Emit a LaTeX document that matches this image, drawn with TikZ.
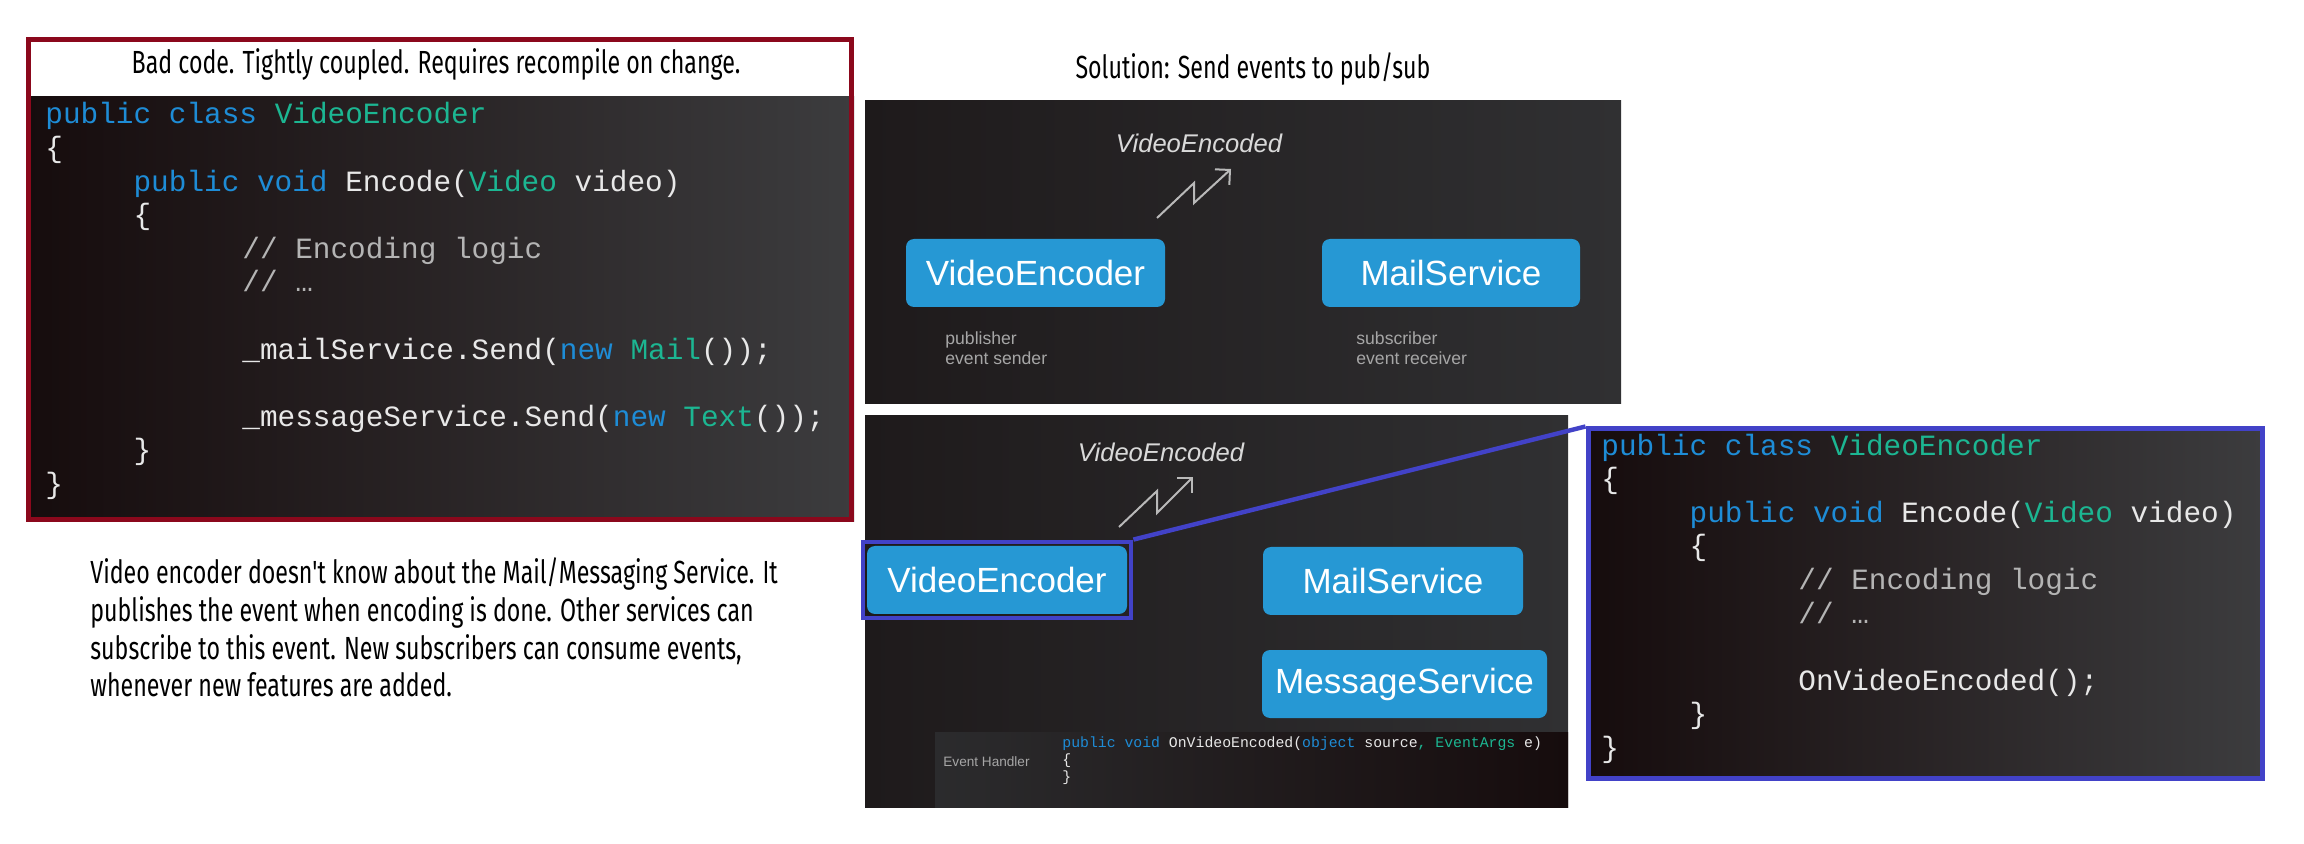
\documentclass[tikz,border=0pt]{standalone}
\usepackage{fontspec}
\setmainfont{Liberation Sans}
\setmonofont{Liberation Mono}
\newfontfamily\condfont[FakeStretch=0.725]{Fira Sans}
\usepackage{tikz}
\usetikzlibrary{arrows.meta,positioning,fit,calc}

\definecolor{framered}{RGB}{139,8,28}
\definecolor{linkblue}{RGB}{66,66,200}
\definecolor{boxblue}{RGB}{38,152,212}
\definecolor{kwblue}{RGB}{30,140,214}
\definecolor{tyteal}{RGB}{28,182,146}
\definecolor{codefg}{RGB}{232,232,232}
\definecolor{cmtgray}{RGB}{180,180,180}
\definecolor{codeleft}{RGB}{22,12,13}
\definecolor{coderight}{RGB}{60,60,62}
\definecolor{scrleft}{RGB}{30,26,27}
\definecolor{scrright}{RGB}{48,48,50}
\definecolor{zzgray}{RGB}{185,185,185}

\newcommand{\kw}[1]{\textcolor{kwblue}{#1}}
\newcommand{\ty}[1]{\textcolor{tyteal}{#1}}
\newcommand{\cmt}[1]{\textcolor{cmtgray}{#1}}
\newcommand{\ind}[1]{\hspace*{#1}}
\newlength{\codeskip}
\setlength{\codeskip}{16.8pt}

\begin{document}
\begin{tikzpicture}[
  x=0.5pt, y=-0.5pt,
  every node/.style={inner sep=0pt},
  hd/.style={font=\condfont\fontsize{16}{18.85}\selectfont, text=black, align=left},
  src/.style={font=\ttfamily\fontsize{14.7}{16.8}\selectfont, text=codefg,
              align=left, anchor=base west},
  svc/.style={fill=boxblue, rounded corners=4pt, minimum height=34pt, text=white,
              font=\fontsize{17.5}{20}\selectfont},
  evt/.style={font=\itshape\fontsize{12.8}{15}\selectfont, text=black!15},
  role/.style={font=\fontsize{8.8}{10}\selectfont, text=black!35, align=left,
               anchor=base west},
  zz/.style={draw=zzgray, line width=1pt, -{Straight Barb[length=5.3pt,width=10.6pt]}},
  hl/.style={draw=linkblue, line width=2pt, inner sep=2pt},
  ln/.style={draw=linkblue, line width=2.2pt},
  scr/.style={left color=scrleft, right color=scrright},
  codebg/.style={left color=codeleft, right color=coderight},
]
\useasboundingbox (0,0) rectangle (2304,844);
\fill[white] (0,0) rectangle (2304,844);

% ---- left: the coupled version ----
\fill[white] (26,37) rectangle (854,97);
\path[codebg] (26,97) rectangle (854,522);
\draw[framered, line width=2.5pt] (28.5,39.5) rectangle (851.5,519.5);
\node[hd, anchor=base] (badhead) at (436,74)
  {Bad code. Tightly coupled. Requires recompile on change.};
% multi-line nodes sit on the baseline of their last line
\node[src] (badcode) at (45,493.6)
  {\kw{public class} \ty{VideoEncoder}\\
   \{\\
   \ind{3em}\kw{public void} Encode(\ty{Video} video)\\
   \ind{3em}\{\\
   \ind{6.7em}\cmt{// Encoding logic}\\
   \ind{6.7em}\cmt{// …}\\[\codeskip]%
   \ind{6.7em}\_mailService.Send(\kw{new} \ty{Mail}());\\[\codeskip]%
   \ind{6.7em}\_messageService.Send(\kw{new} \ty{Text}());\\
   \ind{3em}\}\\
   \}};

\node[hd, anchor=base west] (note) at (90,697)
  {Video encoder doesn't know about the Mail/Messaging Service. It\\
   publishes the event when encoding is done. Other services can\\
   subscribe to this event. New subscribers can consume events,\\
   whenever new features are added.};

% ---- top slide: publisher / subscriber ----
\node[hd, anchor=base] (soltitle) at (1253,79) {Solution: Send events to pub/sub};
\path[scr] (865,101) rectangle (1621,404);
\node[evt] (evA) at (1199,143) {VideoEncoded};
\coordinate (zA0) at (1157,218);
\coordinate (zA1) at (1231,169);
\draw[zz] (zA0) -- ++(37,-35) -- ++(0,20) -- (zA1);
\node[svc, minimum width=129.5pt] (encA) at (1035.5,273) {VideoEncoder};
\node[svc, minimum width=129pt] (mailA) at (1451,273) {MailService};
\node[role] (pubA) at (945,365) {publisher\\event sender};
\node[role] (subA) at (1356,365) {subscriber\\event receiver};

% ---- bottom slide: one publisher, two subscribers ----
\path[scr] (865,416) rectangle (1568,807);
\path[left color=scrright!90!black, right color=codeleft] (935,732) rectangle (1568,807);
\node[evt] (evB) at (1161,452) {VideoEncoded};
\coordinate (zB0) at (1119,527);
\coordinate (zB1) at (1193,477);
\draw[zz] (zB0) -- ++(38,-36) -- ++(0,22) -- (zB1);
\node[svc, minimum width=130pt] (encB) at (997,580) {VideoEncoder};
\node[svc, minimum width=130pt] (mailB) at (1393,581) {MailService};
\node[svc, minimum width=142.5pt] (msgB) at (1404.5,684) {MessageService};
\node[font=\fontsize{6.8}{8}\selectfont, text=black!35, anchor=base west] (evh)
  at (943,766) {Event Handler};
\node[src, font=\ttfamily\fontsize{7.4}{8.5}\selectfont] (handler) at (1062,781)
  {\kw{public void} OnVideoEncoded(\kw{object} source\ty{,} \ty{EventArgs} e)\\
   \{\\
   \}};

% ---- right: the decoupled version ----
\node[hl, fit=(encB)] (pick) {};
\node[codebg, draw=linkblue, line width=2.5pt, minimum width=337pt,
      minimum height=174.5pt, anchor=north west] (goodbox) at (1585.5,426.5) {};
\node[src] (goodcode) at (1601,757.4)
  {\kw{public class} \ty{VideoEncoder}\\
   \{\\
   \ind{3em}\kw{public void} Encode(\ty{Video} video)\\
   \ind{3em}\{\\
   \ind{6.7em}\cmt{// Encoding logic}\\
   \ind{6.7em}\cmt{// …}\\[\codeskip]%
   \ind{6.7em}OnVideoEncoded();\\
   \ind{3em}\}\\
   \}};
\draw[ln] (pick.north east) -- (goodbox.north west);

\end{tikzpicture}
\end{document}
